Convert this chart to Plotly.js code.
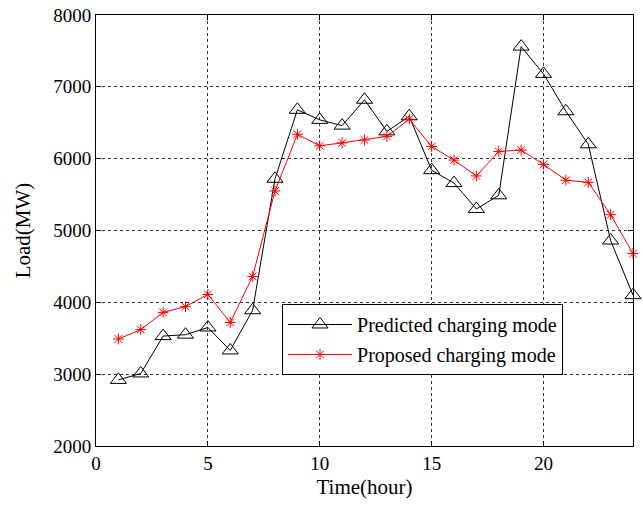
<!DOCTYPE html>
<html>
<head>
<meta charset="utf-8">
<script src="https://cdn.plot.ly/plotly-3.0.1.min.js"></script>
<style>body{margin:0;padding:0;background:#fff;} #chart{width:643px;height:505px;}</style>
</head>
<body>
<div id="chart"></div>
<script>
const hours = [1,2,3,4,5,6,7,8,9,10,11,12,13,14,15,16,17,18,19,20,21,22,23,24];
const predicted = [2920,3010,3530,3550,3650,3330,3890,5720,6680,6540,6460,6820,6380,6590,5840,5660,5300,5490,7560,7180,6660,6200,4860,4100];
const proposed = [3490,3620,3860,3940,4110,3720,4360,5550,6340,6180,6220,6260,6310,6550,6170,5980,5760,6100,6120,5920,5700,5670,5220,4680];
const seriesNames = ['Predicted charging mode','Proposed charging mode'];

const font = 'Liberation Serif, Times New Roman, serif';
const traces = [
  {x: hours, y: predicted, name: seriesNames[0], type: 'scatter', mode: 'lines+markers',
   legendgroup: 'a', cliponaxis: false,
   line: {color: '#000', width: 1},
   marker: {symbol: 'triangle-up-open', size: 14, color: '#000', line: {width: 1, color: '#000'}}},
  {x: hours, y: proposed, name: seriesNames[1], type: 'scatter', mode: 'lines+markers',
   legendgroup: 'b', cliponaxis: false,
   line: {color: '#ff0000', width: 1},
   marker: {symbol: 'asterisk-open', size: 9, color: '#ff0000', line: {width: 1, color: '#ff0000'}}}
];
const axisCommon = {
  showline: true, linecolor: '#000', linewidth: 1, mirror: 'ticks',
  ticks: 'inside', ticklen: 5, tickcolor: '#000',
  showgrid: true, gridcolor: '#333', griddash: 'dot', gridwidth: 1,
  zeroline: false, tickfont: {family: font, size: 19, color: '#000'}
};
const layout = {
  width: 643, height: 505,
  margin: {l: 96, r: 10, t: 15, b: 59},
  paper_bgcolor: '#fff', plot_bgcolor: '#fff',
  font: {family: font, color: '#000'},
  showlegend: true,
  legend: {x: 0.3464, y: 0.3295, xanchor: 'left', yanchor: 'top',
    bgcolor: '#fff', bordercolor: '#000', borderwidth: 1,
    itemwidth: 64, traceorder: 'grouped', tracegroupgap: 1,
    font: {family: font, size: 20, color: '#000'}},
  xaxis: Object.assign({}, axisCommon, {range: [0, 24], tickvals: [0,5,10,15,20],
    title: {text: 'Time(hour)', font: {family: font, size: 21, color: '#000'}, standoff: 6}}),
  yaxis: Object.assign({}, axisCommon, {range: [2000, 8000], tickvals: [2000,3000,4000,5000,6000,7000,8000],
    title: {text: 'Load(MW)', font: {family: font, size: 21, color: '#000'}, standoff: 16}})
};
Plotly.newPlot('chart', traces, layout, {displayModeBar: false, staticPlot: true});
</script>
</body>
</html>
